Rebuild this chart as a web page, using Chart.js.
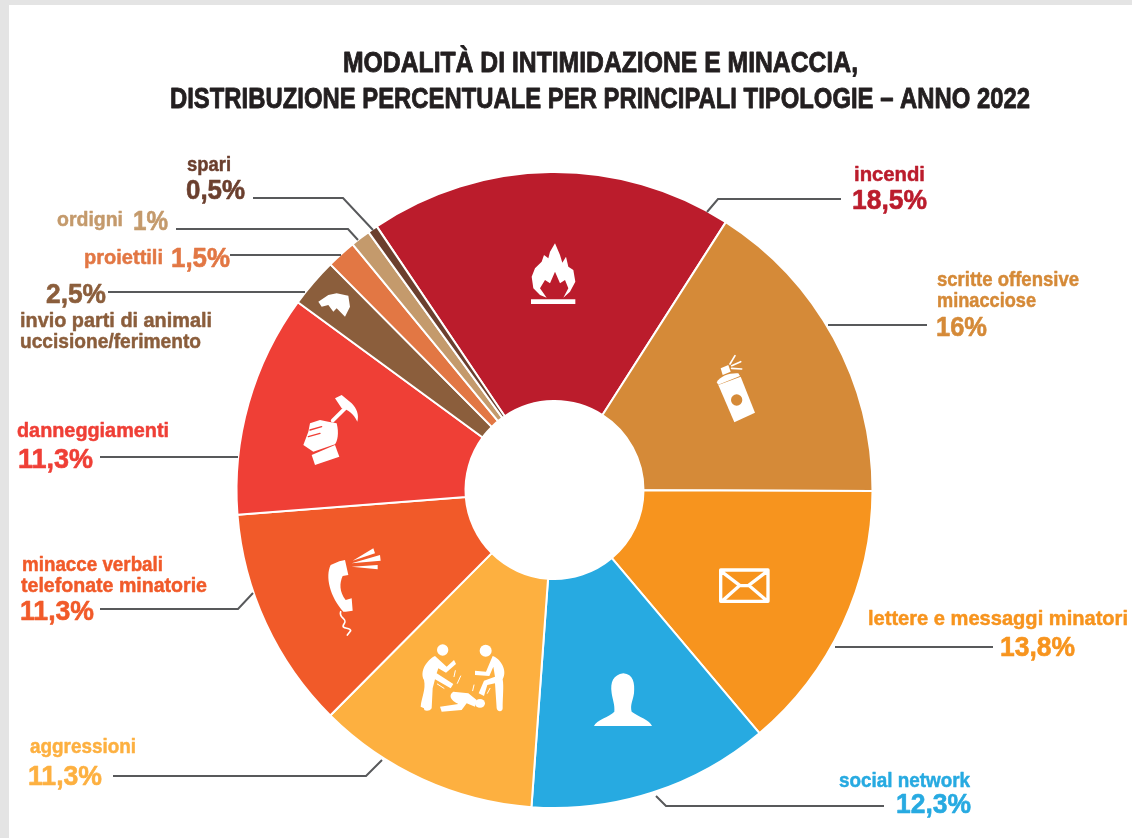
<!DOCTYPE html>
<html>
<head>
<meta charset="utf-8">
<title>Modalità di intimidazione e minaccia</title>
<script src="https://cdn.jsdelivr.net/npm/chart.js@4"></script>
<style>
    html, body { margin: 0; height: 100%; overflow: hidden; background: #e4e4e4; }
    #panel { position: absolute; left: 9px; top: 5px; right: 0; bottom: 0; background: #fff; }
    #chart { position: absolute; left: 0; top: 0; }
</style>
</head>
<body>
<div id="panel"></div>
<canvas id="chart" width="1132" height="838"></canvas>
<script>
const titleLines = ["MODALITÀ DI INTIMIDAZIONE E MINACCIA,", "DISTRIBUZIONE PERCENTUALE PER PRINCIPALI TIPOLOGIE – ANNO 2022"];
const categories = ["incendi", "scritte offensive minacciose", "lettere e messaggi minatori", "social network", "aggressioni",
    "minacce verbali telefonate minatorie", "danneggiamenti", "invio parti di animali uccisione/ferimento", "proiettili", "ordigni", "spari"];
const categoryLines = [["incendi"], ["scritte offensive", "minacciose"], ["lettere e messaggi minatori"], ["social network"], ["aggressioni"],
    ["minacce verbali", "telefonate minatorie"], ["danneggiamenti"], ["invio parti di animali", "uccisione/ferimento"], ["proiettili"], ["ordigni"], ["spari"]];
const values = [18.5, 16, 13.8, 12.3, 11.3, 11.3, 11.3, 2.5, 1.5, 1, 0.5];
const colors = ["#BB1C2C", "#D58A38", "#F7941E", "#27AAE1", "#FDB040", "#F15A29", "#EF3F36", "#8B5E3C", "#E27744", "#C49A6C", "#6B3F2E"];

// where the texts sit: [left, baseline, width] for each name line, then for the percentage
const nameBoxes = [
    [[854, 181, 71]],
    [[937, 286, 142], [937, 307, 99]],
    [[868, 625, 260]],
    [[839, 787, 131]],
    [[30, 753, 106]],
    [[22, 571, 141], [21, 592, 186]],
    [[17, 437, 152]],
    [[20, 327, 192], [20, 348, 181]],
    [[84, 264, 79]],
    [[57, 226, 66]],
    [[187, 171, 44]]
];
const pctBoxes = [[852, 209, 75], [936, 336, 51], [1000, 656, 75], [896, 813, 75], [28, 785, 74], [20, 620, 74],
    [18, 468, 75], [46, 303, 60], [171, 267, 59], [133, 230, 35], [186, 199, 59]];
const leaders = [
    [[841, 199], [718, 199], [707, 212]],
    [[828, 325], [927, 325]],
    [[835, 647], [993, 647]],
    [[656, 796], [666, 806], [884, 806]],
    [[113, 776], [366, 776], [382, 760]],
    [[100, 609], [238, 609], [253, 593]],
    [[100, 457], [238, 457]],
    [[108, 292], [305, 292]],
    [[230, 255], [341, 255]],
    [[176, 229], [348, 229], [358, 240]],
    [[253, 198], [343, 198], [373, 230]]
];

// white pictograms, each drawn in the coords of a 3x crop (x0, y0)
const icons = [
    { x0: 400, y0: 220, parts: [
        { fill: "M465,70 L480,105 L487,128 L498,110 L505,140 L520,150 L526,185 L510,215 L490,233 L505,205 L495,180 L480,190 L465,155 L450,190 L435,180 L420,205 L440,233 L420,225 L400,205 L395,170 L405,145 L425,125 L432,105 L445,115 L450,95 Z" },
        { fill: "M393,238 L526,238 L526,252 L393,252 Z" }
    ] },
    { x0: 400, y0: 220, parts: [
        { fill: "M955,495 L1022,470 L1065,578 L1003,607 Z" },
        { fill: "M950,487 C960,468 990,458 1015,460 L1020,468 L955,494 Z" },
        { fill: "M962,445 L985,435 L992,455 L968,465 Z" },
        { stroke: "M990,432 L1005,407 M995,437 L1022,425 M995,445 L1025,447", width: 5 },
        { fill: "M993,540 A17,17 0 1 0 1027,540 A17,17 0 1 0 993,540 Z", color: "#D58A38" }
    ] },
    { x0: 280, y0: 520, parts: [
        { stroke: "M1322,150 L1464,150 L1464,244 L1322,244 Z M1325,155 L1380,197 L1405,197 L1460,155 M1330,240 L1378,197 M1458,240 L1408,197", width: 10 }
    ] },
    { x0: 280, y0: 520, parts: [
        { fill: "M1030,460 C1060,462 1065,490 1062,520 C1058,545 1050,555 1055,575 C1075,590 1110,600 1116,618 L942,618 C948,600 990,590 1003,575 C1005,555 998,540 995,520 C990,485 1000,465 1030,460 Z" }
    ] },
    { x0: 280, y0: 520, parts: [
        { fill: "M422,560 C425,530 438,510 432,480 C418,455 440,420 465,408 L500,440 L522,420 L528,432 L498,458 L475,445 L470,460 L520,492 L512,505 L465,478 L458,505 L455,565 C450,575 430,575 432,565 Z" },
        { fill: "M471,390 A17,17 0 1 0 505,390 A17,17 0 1 0 471,390 Z" },
        { fill: "M668,565 C668,530 672,500 668,478 C684,450 660,415 638,408 L618,455 L585,452 L585,465 L628,468 L640,440 L645,470 L612,482 L596,520 L612,528 L622,495 L645,490 L650,565 C652,577 668,577 668,565 Z" },
        { fill: "M599,392 A18,18 0 1 0 635,392 A18,18 0 1 0 599,392 Z" },
        { fill: "M480,560 L535,552 C510,540 505,525 520,515 L565,520 L590,540 L585,560 L560,550 L545,570 L485,575 Z" },
        { fill: "M585,550 A15,13 0 1 0 615,550 A15,13 0 1 0 585,550 Z" },
        { stroke: "M532,490 L542,468 M522,470 L526,452 M472,492 L492,505 M582,495 L578,512 M630,505 L622,520", width: 3 }
    ] },
    { x0: 280, y0: 520, parts: [
        { fill: "M178,124 L195,120 L205,165 L188,168 C178,190 178,215 197,240 L215,235 L218,272 L197,275 L190,275 C150,230 135,170 152,135 Z" },
        { stroke: "M182,275 C175,295 205,295 192,312 C180,330 212,320 212,332 L202,345", width: 5 },
        { fill: "M218,122 L280,85 L285,100 Z M215,130 L300,105 L302,122 Z M215,140 L293,135 L293,148 Z" }
    ] },
    { x0: 280, y0: 380, parts: [
        { fill: "M95,225 L165,195 L178,230 L105,255 Z" },
        { fill: "M70,195 L85,155 L90,130 L120,120 L145,125 L170,130 C178,160 172,185 165,193 L100,215 Z" },
        { stroke: "M90,150 L125,140 M85,170 L120,160", width: 4, color: "#EF3F36" },
        { stroke: "M158,122 L195,85", width: 11 },
        { fill: "M165,55 L185,45 L215,70 C230,85 238,105 232,125 C220,100 205,90 185,85 Z" }
    ] },
    { x0: 0, y0: 130, parts: [
        { fill: "M955,515 L985,495 L1010,490 L1045,497 L1050,530 L1035,560 L1010,535 L1000,545 L985,525 L965,530 Z" }
    ] }
];

function fitText(ctx, text, box, font, color, heavy) {
    ctx.save();
    ctx.font = font;
    ctx.fillStyle = color;
    ctx.strokeStyle = color;
    ctx.lineWidth = heavy;
    ctx.lineJoin = "round";
    ctx.textBaseline = "alphabetic";
    ctx.translate(box[0], box[1]);
    ctx.scale(box[2] / ctx.measureText(text).width, 1);
    ctx.fillText(text, 0, 0);
    ctx.strokeText(text, 0, 0);
    ctx.restore();
}

const annotations = {
    id: "annotations",
    afterDatasetsDraw(chart) {
        const ctx = chart.ctx;
        ctx.save();

        // pictograms
        icons.forEach(icon => {
            ctx.save();
            ctx.translate(icon.x0, icon.y0);
            ctx.scale(1 / 3, 1 / 3);
            ctx.lineCap = "round";
            ctx.lineJoin = "round";
            icon.parts.forEach(part => {
                ctx.fillStyle = part.color || "#fff";
                ctx.strokeStyle = part.color || "#fff";
                if (part.fill) ctx.fill(new Path2D(part.fill));
                if (part.stroke) {
                    ctx.lineWidth = part.width;
                    ctx.stroke(new Path2D(part.stroke));
                }
            });
            ctx.restore();
        });

        // leader lines
        ctx.strokeStyle = "#58595B";
        ctx.lineWidth = 2;
        leaders.forEach(points => {
            ctx.beginPath();
            points.forEach((p, i) => i ? ctx.lineTo(p[0], p[1]) : ctx.moveTo(p[0], p[1]));
            ctx.stroke();
        });

        // labels
        const family = '"Liberation Sans Narrow", "Liberation Sans", sans-serif';
        titleLines.forEach((line, i) => {
            fitText(ctx, line, [[343, 72, 515], [170, 108, 860]][i], "bold 30px " + family, "#231F20", 0.9);
        });
        categoryLines.forEach((lines, i) => {
            lines.forEach((line, j) => fitText(ctx, line, nameBoxes[i][j], "bold 21px " + family, colors[i], 0.5));
            const pct = String(values[i]).replace(".", ",") + "%";
            fitText(ctx, pct, pctBoxes[i], "bold 28px " + family, colors[i], 0.6);
        });
        ctx.restore();
    }
};

new Chart(document.getElementById("chart"), {
    type: "doughnut",
    data: {
        labels: categories,
        datasets: [{
            data: values,
            backgroundColor: colors,
            borderColor: "#fff",
            borderWidth: 2
        }]
    },
    options: {
        responsive: false,
        animation: false,
        rotation: -34,
        cutout: 89,
        layout: { padding: { left: 235.5, right: 258.5, top: 171, bottom: 29 } },
        plugins: {
            legend: { display: false },
            tooltip: { enabled: false }
        }
    },
    plugins: [annotations]
});
</script>
</body>
</html>
